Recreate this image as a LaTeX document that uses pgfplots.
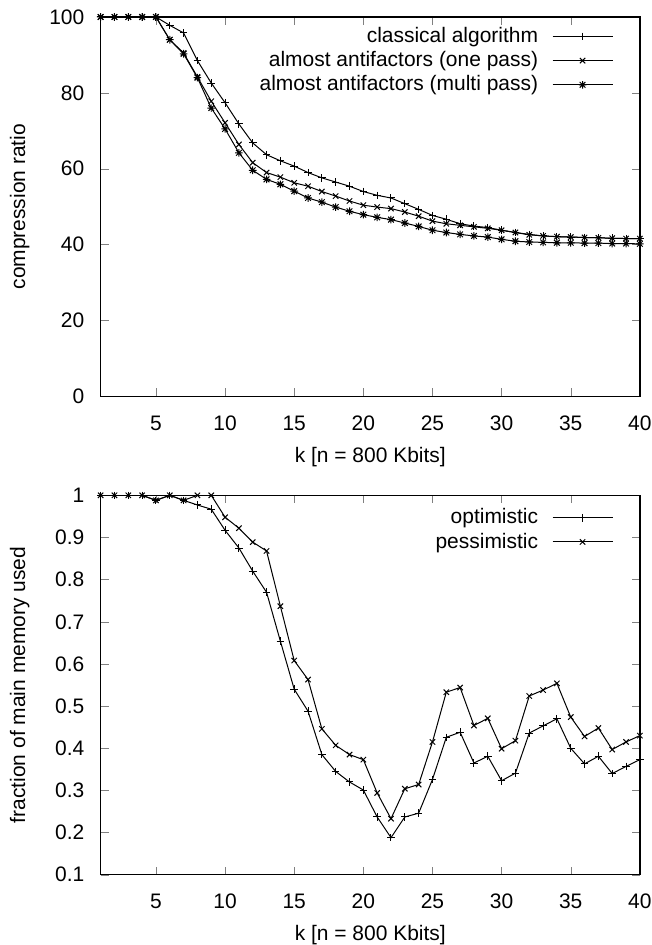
\documentclass[border=0pt]{standalone}
\usepackage{pgfplots}
\pgfplotsset{compat=1.18}
\usepackage{fontspec}
\setmainfont{Liberation Sans}
\pgfdeclareplotmark{plusx}{%
  \pgfpathmoveto{\pgfqpoint{-\pgfplotmarksize}{0pt}}\pgfpathlineto{\pgfqpoint{\pgfplotmarksize}{0pt}}%
  \pgfpathmoveto{\pgfqpoint{0pt}{-\pgfplotmarksize}}\pgfpathlineto{\pgfqpoint{0pt}{\pgfplotmarksize}}%
  \pgfpathmoveto{\pgfqpoint{-0.75\pgfplotmarksize}{-0.75\pgfplotmarksize}}\pgfpathlineto{\pgfqpoint{0.75\pgfplotmarksize}{0.75\pgfplotmarksize}}%
  \pgfpathmoveto{\pgfqpoint{-0.75\pgfplotmarksize}{0.75\pgfplotmarksize}}\pgfpathlineto{\pgfqpoint{0.75\pgfplotmarksize}{-0.75\pgfplotmarksize}}%
  \pgfusepathqstroke}
\pgfplotsset{
  every axis/.append style={
    scale only axis, width=270pt, height=190pt,
    xmin=1, xmax=40, xtick={5,10,...,40},
    tick align=inside, major tick length=4pt,
    font=\fontsize{10.5}{12.6}\selectfont,
    /pgf/number format/assume math mode=true,
    xticklabel style={anchor=base, inner sep=0pt, yshift=-17pt},
    yticklabel style={anchor=east, inner sep=0pt, xshift=-8pt},
    xlabel={k [n = 800 Kbits]},
    xlabel style={at={(axis description cs:0.5,0)}, anchor=base, inner sep=0pt, yshift=-33pt},
    ylabel style={at={(axis description cs:-0.15,0.5)}, anchor=center, inner sep=5pt},
    legend cell align=right, legend plot pos=right,
    legend style={draw=none, fill=none, at={(1,1)}, anchor=north east, xshift=-10.25pt, row sep=-1pt},
    legend image code/.code={\path (0pt,0pt); \draw[mark repeat=2,mark phase=2,#1] plot coordinates {(5pt,0pt) (20pt,0pt) (35pt,0pt)};},
    every axis plot/.append style={black, line width=0.5pt, mark size=1.9pt, mark options={solid, line width=0.5pt}},
    axis line style={line width=0.7pt},
  }
}
\begin{document}
\begin{tikzpicture}
\begin{axis}[name=top, ymin=0, ymax=100, ytick={0,20,...,100},
  ylabel={compression ratio}, legend style={yshift=-1pt}]
\addplot[mark=+] coordinates {
(1,100)(2,100)(3,100)(4,100)(5,100)(6,97.8)(7,95.8)(8,88.5)(9,82.6)(10,77.4)
(11,71.8)(12,66.8)(13,63.7)(14,62.1)(15,60.7)(16,59.0)(17,57.6)(18,56.5)(19,55.4)(20,54.0)
(21,53.0)(22,52.3)(23,50.8)(24,49.3)(25,47.7)(26,46.7)(27,45.5)(28,44.9)(29,44.5)(30,43.8)
(31,43.2)(32,42.7)(33,42.3)(34,42.1)(35,42.0)(36,41.9)(37,41.8)(38,41.7)(39,41.6)(40,41.6)};
\addlegendentry{classical algorithm}
\addplot[mark=x] coordinates {
(1,100)(2,100)(3,100)(4,100)(5,100)(6,94.0)(7,90.5)(8,84.2)(9,77.8)(10,72.1)
(11,66.4)(12,61.6)(13,59.0)(14,57.8)(15,56.3)(16,55.4)(17,54.0)(18,52.8)(19,51.5)(20,50.4)
(21,49.9)(22,49.5)(23,48.6)(24,47.5)(25,46.2)(26,45.5)(27,45.1)(28,44.7)(29,44.3)(30,43.8)
(31,43.2)(32,42.6)(33,42.3)(34,42.1)(35,42.0)(36,41.9)(37,41.8)(38,41.7)(39,41.6)(40,41.6)};
\addlegendentry{almost antifactors (one pass)}
\addplot[mark=plusx] coordinates {
(1,100)(2,100)(3,100)(4,100)(5,100)(6,94.0)(7,90.3)(8,84.0)(9,76.0)(10,70.5)
(11,64.2)(12,59.6)(13,57.2)(14,55.9)(15,54.1)(16,52.3)(17,51.2)(18,49.9)(19,48.8)(20,47.9)
(21,47.2)(22,46.6)(23,45.7)(24,44.8)(25,43.8)(26,43.2)(27,42.7)(28,42.3)(29,42.0)(30,41.4)
(31,40.9)(32,40.7)(33,40.6)(34,40.5)(35,40.5)(36,40.4)(37,40.4)(38,40.3)(39,40.3)(40,40.2)};
\addlegendentry{almost antifactors (multi pass)}
\end{axis}
\path ([yshift=8.5pt]top.north west) -- ([yshift=8.5pt]top.north east);
\begin{axis}[at={(top.north west)}, anchor=north west, yshift=-239.5pt,
  ymin=0.1, ymax=1, ytick={0.1,0.2,...,1.0},
  ylabel={fraction of main memory used}, legend style={yshift=-2.5pt}]
\addplot[mark=+] coordinates {
(1,1)(2,1)(3,1)(4,1)(5,0.988)(6,1)(7,0.988)(8,0.977)(9,0.967)(10,0.917)
(11,0.875)(12,0.82)(13,0.77)(14,0.654)(15,0.54)(16,0.488)(17,0.385)(18,0.345)(19,0.32)(20,0.301)
(21,0.237)(22,0.188)(23,0.237)(24,0.246)(25,0.326)(26,0.426)(27,0.438)(28,0.365)(29,0.381)(30,0.323)
(31,0.341)(32,0.436)(33,0.453)(34,0.47)(35,0.40)(36,0.363)(37,0.381)(38,0.34)(39,0.357)(40,0.373)};
\addlegendentry{optimistic}
\addplot[mark=x] coordinates {
(1,1)(2,1)(3,1)(4,1)(5,0.988)(6,1)(7,0.988)(8,1)(9,1)(10,0.948)
(11,0.922)(12,0.889)(13,0.868)(14,0.737)(15,0.608)(16,0.563)(17,0.446)(18,0.407)(19,0.385)(20,0.373)
(21,0.294)(22,0.233)(23,0.304)(24,0.314)(25,0.415)(26,0.533)(27,0.544)(28,0.454)(29,0.471)(30,0.399)
(31,0.418)(32,0.524)(33,0.538)(34,0.554)(35,0.474)(36,0.428)(37,0.448)(38,0.397)(39,0.415)(40,0.43)};
\addlegendentry{pessimistic}
\end{axis}
\end{tikzpicture}
\end{document}
